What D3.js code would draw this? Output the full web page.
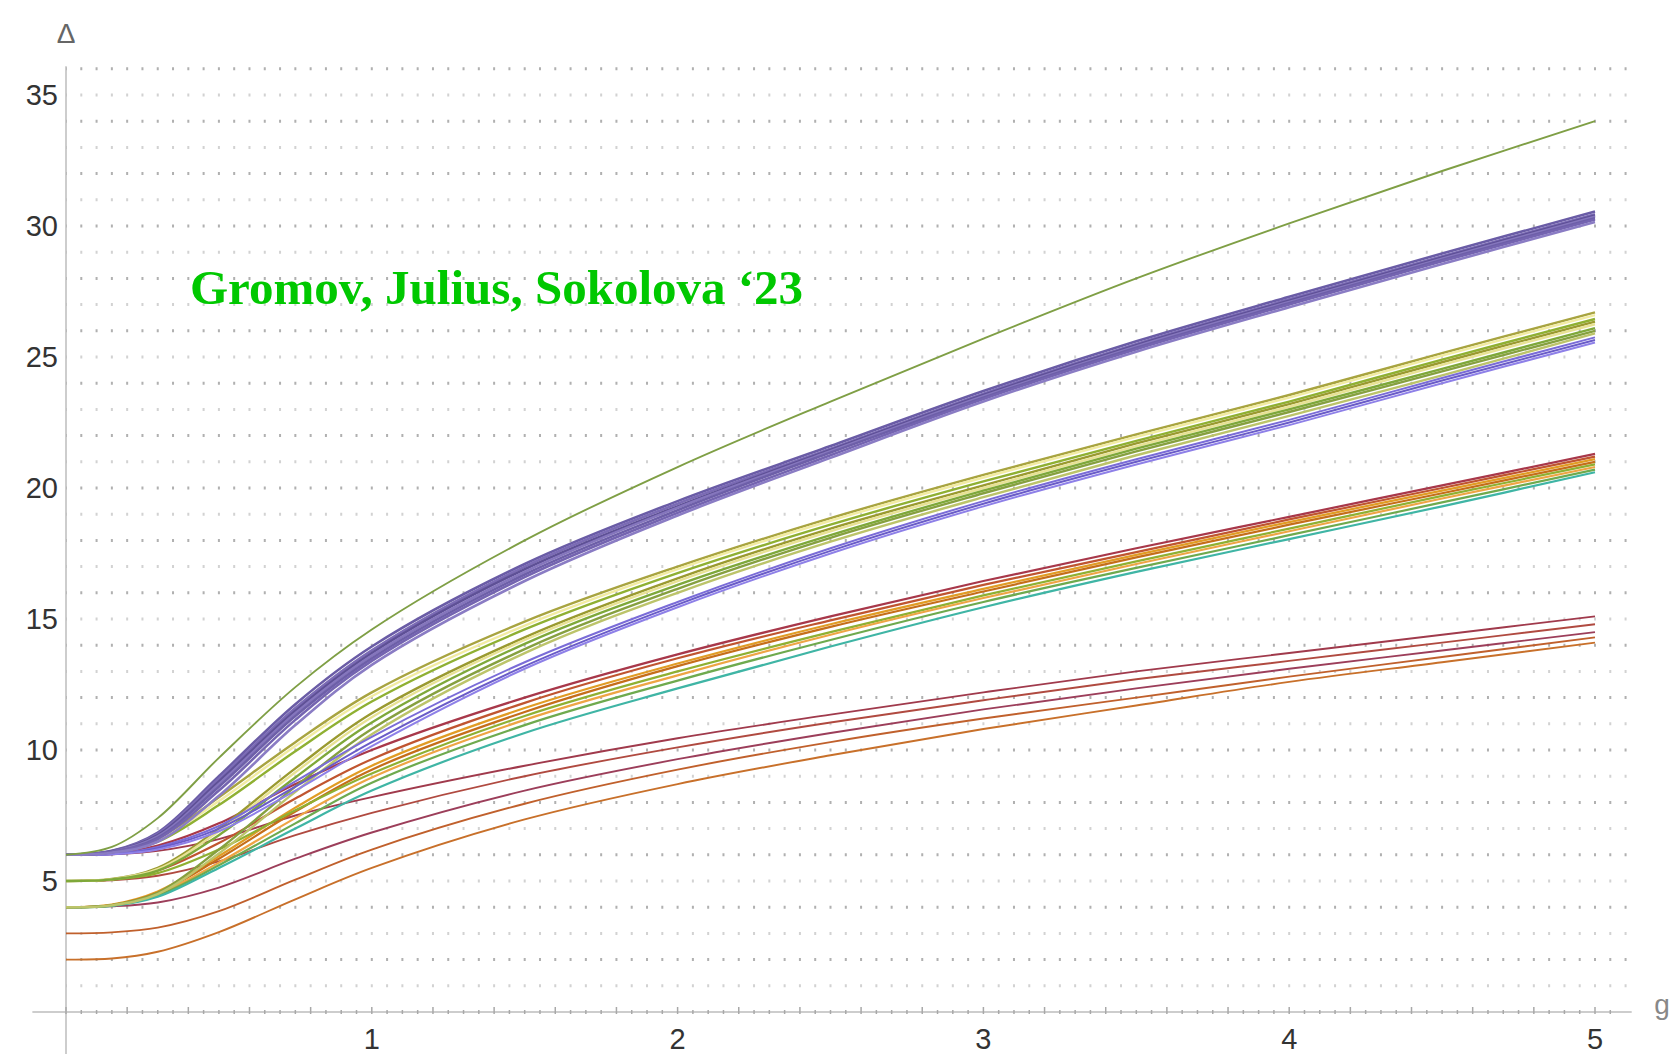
<!DOCTYPE html>
<html>
<head>
<meta charset="utf-8">
<script src="https://cdn.jsdelivr.net/npm/d3@7"></script>
<style>
  html, body { margin: 0; padding: 0; background: #fff; }
  svg { display: block; }
</style>
</head>
<body>
<svg id="chart" width="1671" height="1054"></svg>
<script>
// Coupling values g at which every curve is sampled
const G = [0, 0.15, 0.3, 0.5, 0.75, 1, 1.5, 2, 2.5, 3, 3.5, 4, 4.5, 5];

// Axis tick labels
const xTicks = [1, 2, 3, 4, 5];
const yTicks = [5, 10, 15, 20, 25, 30, 35];

// Highest single trajectory
const topCurve = [6, 6.3, 7.4, 9.7, 12.4, 14.6, 18.0, 20.8, 23.3, 25.7, 28.0, 30.1, 32.1, 34.0];
const topColor = "#7f9f45";

// Purple bundle ending near 30
const purpleBand = [
  [6, 6.15, 6.85, 9.0, 11.75, 13.95, 17.1, 19.5, 21.6, 23.7, 25.6, 27.3, 28.95, 30.55],
  [6, 6.14, 6.8, 8.9, 11.6, 13.8, 17.0, 19.4, 21.5, 23.6, 25.5, 27.2, 28.85, 30.45],
  [6, 6.13, 6.75, 8.8, 11.5, 13.7, 16.9, 19.3, 21.45, 23.55, 25.45, 27.15, 28.8, 30.4],
  [6, 6.12, 6.7, 8.7, 11.4, 13.6, 16.8, 19.25, 21.4, 23.5, 25.4, 27.1, 28.75, 30.35],
  [6, 6.11, 6.65, 8.6, 11.3, 13.5, 16.7, 19.15, 21.35, 23.45, 25.35, 27.05, 28.7, 30.3],
  [6, 6.1, 6.6, 8.45, 11.15, 13.4, 16.6, 19.05, 21.25, 23.4, 25.3, 27.0, 28.65, 30.25],
  [6, 6.08, 6.5, 8.25, 10.95, 13.25, 16.45, 18.95, 21.15, 23.3, 25.2, 26.9, 28.55, 30.15]
];
const purpleColors = ["#6a5ca6", "#7b6bb5", "#5e5096", "#8576bd", "#6d5fa8", "#7464b0", "#8a7cc4"];

// Yellow / green bundle ending near 26
const yellowBand = [
  [6, 6.1, 6.6, 8.2, 10.3, 12.2, 14.9, 17.0, 18.85, 20.5, 22.05, 23.55, 25.15, 26.7],
  [6, 6.09, 6.55, 8.05, 10.15, 12.05, 14.75, 16.9, 18.75, 20.4, 21.95, 23.45, 25.05, 26.6],
  [6, 6.08, 6.5, 7.9, 9.95, 11.85, 14.6, 16.75, 18.6, 20.25, 21.8, 23.3, 24.9, 26.45],
  [5, 5.08, 5.5, 7.0, 9.3, 11.4, 14.3, 16.55, 18.45, 20.1, 21.7, 23.2, 24.8, 26.35],
  [5, 5.07, 5.45, 6.9, 9.15, 11.25, 14.2, 16.45, 18.35, 20.0, 21.6, 23.1, 24.7, 26.25],
  [5, 5.06, 5.4, 6.75, 8.95, 11.05, 14.05, 16.3, 18.2, 19.9, 21.5, 23.0, 24.55, 26.1],
  [4, 4.08, 4.55, 6.2, 8.6, 10.8, 13.85, 16.15, 18.1, 19.8, 21.4, 22.9, 24.45, 26.0],
  [4, 4.07, 4.5, 6.05, 8.4, 10.6, 13.7, 16.0, 17.95, 19.65, 21.25, 22.75, 24.3, 25.9]
];
const yellowColors = ["#a8a440", "#f2eca2", "#8fb032", "#9a9a30", "#e8e294", "#7ea83a", "#86a040", "#bcc46a"];

// Purple trajectories that stay low and join the yellow bundle
const lowPurple = [
  [6, 6.03, 6.3, 7.1, 8.8, 10.5, 13.35, 15.65, 17.7, 19.5, 21.1, 22.6, 24.2, 25.75],
  [6, 6.02, 6.25, 7.0, 8.6, 10.3, 13.2, 15.55, 17.6, 19.4, 21.0, 22.5, 24.1, 25.65],
  [6, 6.02, 6.2, 6.9, 8.45, 10.15, 13.1, 15.45, 17.5, 19.3, 20.9, 22.4, 24.0, 25.55]
];
const lowPurpleColors = ["#7a6cd8", "#6a5cc8", "#8e80e8"];

// Red / orange / teal bundle ending near 21
const redBand = [
  [6, 6.05, 6.35, 7.2, 8.7, 10.0, 12.0, 13.65, 15.1, 16.45, 17.7, 18.9, 20.1, 21.3],
  [5, 5.06, 5.4, 6.45, 8.15, 9.65, 11.8, 13.5, 14.95, 16.3, 17.55, 18.8, 20.0, 21.2],
  [4, 4.1, 4.6, 5.95, 7.8, 9.4, 11.6, 13.3, 14.8, 16.15, 17.45, 18.7, 19.9, 21.1],
  [4, 4.08, 4.55, 5.85, 7.65, 9.25, 11.45, 13.2, 14.7, 16.05, 17.35, 18.6, 19.8, 21.0],
  [5, 5.05, 5.3, 6.2, 7.7, 9.1, 11.3, 13.0, 14.5, 15.9, 17.2, 18.45, 19.7, 20.9],
  [4, 4.07, 4.5, 5.7, 7.4, 8.95, 11.15, 12.85, 14.4, 15.8, 17.1, 18.35, 19.6, 20.8],
  [4, 4.06, 4.45, 5.6, 7.2, 8.75, 10.95, 12.65, 14.2, 15.65, 16.95, 18.2, 19.45, 20.7],
  [4, 4.05, 4.4, 5.5, 7.0, 8.45, 10.65, 12.35, 13.95, 15.45, 16.8, 18.05, 19.3, 20.6]
];
const redColors = ["#a8384a", "#c05530", "#e19c24", "#c56e1a", "#8fb032", "#eea544", "#6eaa4e", "#3fb5a5"];

// Lowest family of five slowly growing trajectories
const lowBand = [
  [6, 6.02, 6.15, 6.6, 7.5, 8.2, 9.4, 10.45, 11.35, 12.2, 13.0, 13.7, 14.4, 15.1],
  [5, 5.03, 5.2, 5.75, 6.75, 7.6, 9.0, 10.1, 11.05, 11.9, 12.7, 13.4, 14.1, 14.8],
  [4, 4.03, 4.18, 4.75, 5.85, 6.85, 8.45, 9.65, 10.65, 11.55, 12.35, 13.1, 13.8, 14.5],
  [3, 3.04, 3.22, 3.85, 5.05, 6.2, 7.95, 9.25, 10.3, 11.2, 12.0, 12.8, 13.55, 14.3],
  [2, 2.04, 2.3, 3.05, 4.3, 5.5, 7.35, 8.7, 9.8, 10.8, 11.7, 12.6, 13.35, 14.1]
];
const lowColors = ["#a03a4c", "#b04a40", "#9c3e5a", "#c0602c", "#c8702a"];

const titleText = "Gromov, Julius, Sokolova \u201823";

// ---------------------------------------------------------------
const svg = d3.select("#chart");
const W = 1671, H = 1054;
svg.append("rect").attr("width", W).attr("height", H).attr("fill", "#fff");

const x = d3.scaleLinear().domain([0, 5]).range([66, 1595]);
const y = d3.scaleLinear().domain([0, 35]).range([1012, 95]);

// dotted horizontal grid, one row per unit, darker on even rows
const step = x(0.05) - x(0);
const grid = svg.append("g");
grid.selectAll("line")
  .data(d3.range(1, 37))
  .join("line")
  .attr("x1", x(0)).attr("x2", x(5.11))
  .attr("y1", d => y(d)).attr("y2", d => y(d))
  .attr("stroke", d => d % 2 === 0 ? "#b0b0b0" : "#d2d2d2")
  .attr("stroke-width", 3)
  .attr("stroke-dasharray", `2 ${step - 2}`)
  .attr("stroke-dashoffset", 1);

// axes
const axisColor = "#bdbdbd";
svg.append("line")
  .attr("x1", x(0)).attr("x2", x(0))
  .attr("y1", y(36.1)).attr("y2", H)
  .attr("stroke", axisColor).attr("stroke-width", 1.5);
svg.append("line")
  .attr("x1", x(-0.11)).attr("x2", x(5.12))
  .attr("y1", y(0)).attr("y2", y(0))
  .attr("stroke", axisColor).attr("stroke-width", 1.5);

// x-axis minor ticks
svg.append("g").selectAll("line")
  .data(d3.range(0, 102).map(i => i * 0.05))
  .join("line")
  .attr("x1", d => x(d)).attr("x2", d => x(d))
  .attr("y1", d => y(0) - (Math.round(d * 20) % 4 === 0 ? 5 : 2))
  .attr("y2", d => y(0) + 2)
  .attr("stroke", "#a8a8a8").attr("stroke-width", 1.5);

// tick labels
const font = "'Liberation Sans', Arial, sans-serif";
svg.append("g").selectAll("text")
  .data(yTicks)
  .join("text")
  .attr("x", 58).attr("y", d => y(d))
  .attr("dy", "0.36em")
  .attr("text-anchor", "end")
  .attr("font-family", font).attr("font-size", 29)
  .attr("fill", "#333")
  .text(d => d);
svg.append("g").selectAll("text")
  .data(xTicks)
  .join("text")
  .attr("x", d => x(d)).attr("y", 1049)
  .attr("text-anchor", "middle")
  .attr("font-family", font).attr("font-size", 29)
  .attr("fill", "#333")
  .text(d => d);

// axis names
svg.append("text")
  .attr("x", x(0)).attr("y", 43)
  .attr("text-anchor", "middle")
  .attr("font-family", font).attr("font-size", 28)
  .attr("fill", "#666")
  .text("\u0394");
svg.append("text")
  .attr("x", 1662).attr("y", 1014)
  .attr("text-anchor", "middle")
  .attr("font-family", font).attr("font-size", 28)
  .attr("fill", "#888")
  .text("g");

// curves
const line = d3.line()
  .x((d, i) => x(G[i]))
  .y(d => y(d))
  .curve(d3.curveCatmullRom.alpha(0.5));

function drawFamily(rows, colors, width) {
  svg.append("g").selectAll("path")
    .data(rows)
    .join("path")
    .attr("d", d => line(d))
    .attr("fill", "none")
    .attr("stroke", (d, i) => colors[i % colors.length])
    .attr("stroke-width", width)
    .attr("stroke-linejoin", "round");
}

drawFamily(lowBand, lowColors, 1.9);
drawFamily(redBand, redColors, 2.2);
drawFamily(yellowBand, yellowColors, 2.4);
drawFamily(lowPurple, lowPurpleColors, 2);
drawFamily(purpleBand, purpleColors, 2.6);
drawFamily([topCurve], [topColor], 1.9);

// title
svg.append("text")
  .attr("x", 190).attr("y", 304)
  .attr("font-family", "'Liberation Serif', 'Times New Roman', serif")
  .attr("font-weight", "bold")
  .attr("font-size", 49)
  .attr("fill", "#00c800")
  .text(titleText);
</script>
</body>
</html>
